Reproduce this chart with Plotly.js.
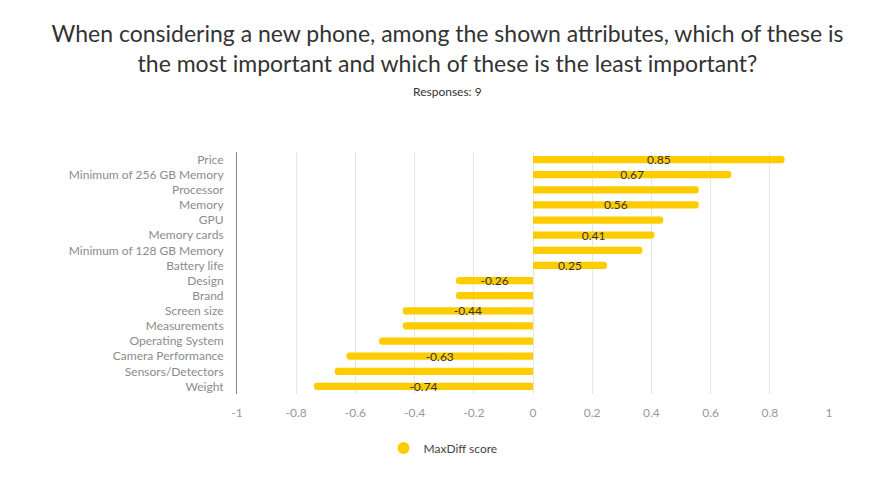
<!DOCTYPE html>
<html>
<head>
<meta charset="utf-8">
<script src="https://cdn.plot.ly/plotly-3.0.1.min.js"></script>
<style>
  html, body { margin: 0; padding: 0; background: #fff; }
  #chart { width: 895px; height: 493px; }
</style>
</head>
<body>
<div id="chart"></div>
<script>
// Attributes, top to bottom
const attributes = [
  "Price", "Minimum of 256 GB Memory", "Processor", "Memory", "GPU",
  "Memory cards", "Minimum of 128 GB Memory", "Battery life", "Design",
  "Brand", "Screen size", "Measurements", "Operating System",
  "Camera Performance", "Sensors/Detectors", "Weight"
];
// MaxDiff score per attribute
const scores = [0.85, 0.67, 0.56, 0.56, 0.44, 0.41, 0.37, 0.25, -0.26,
  -0.26, -0.44, -0.44, -0.52, -0.63, -0.67, -0.74];
// Which bars carry a value label
const labelled = [true, true, false, true, false, true, false, true, true,
  false, true, false, false, true, false, true];
const xTicks = [-1, -0.8, -0.6, -0.4, -0.2, 0, 0.2, 0.4, 0.6, 0.8, 1];

const FONT = "Lato, 'Open Sans', sans-serif";
const YELLOW = "#FFCC00";
const H = 493;
const M = { l: 237, r: 66, t: 152, b: 99 };
const plotH = H - M.t - M.b;

const barText = scores.map((v, i) => labelled[i] ? String(v) : "");

const traces = [
  {
    type: "bar",
    orientation: "h",
    y: attributes,
    x: scores,
    name: "MaxDiff score",
    showlegend: false,
    marker: { color: YELLOW, cornerradius: 3 },
    text: barText,
    textposition: "inside",
    insidetextanchor: "middle",
    constraintext: "none",
    textfont: { family: FONT, size: 12, color: "#333" },
    hoverinfo: "y+x"
  },
  {
    // legend entry with a round swatch; its point sits outside the hidden axes' range
    type: "scatter",
    mode: "markers",
    x: [0],
    y: [0],
    xaxis: "x2",
    yaxis: "y2",
    cliponaxis: true,
    name: "MaxDiff score",
    marker: { color: YELLOW, size: 12, symbol: "circle" },
    hoverinfo: "skip"
  }
];

const layout = {
  width: 895,
  height: H,
  paper_bgcolor: "#fff",
  plot_bgcolor: "#fff",
  font: { family: FONT, color: "#666" },
  margin: M,
  bargap: 0.52,
  title: {
    text: "When considering a new phone, among the shown attributes, which of these is<br>the most important and which of these is the least important?",
    font: { family: FONT, size: 23, color: "#333" },
    x: 0.5,
    xanchor: "center",
    y: 1 - 42 / H,
    yanchor: "middle",
    yref: "container"
  },
  annotations: [
    {
      text: "Responses: 9",
      xref: "paper", yref: "paper",
      x: 0.5 - (M.l - M.r) / 2 / (895 - M.l - M.r),
      y: (H - M.b - 92) / plotH, yanchor: "middle",
      showarrow: false,
      font: { family: FONT, size: 12, color: "#333" }
    }
  ],
  xaxis: {
    range: [-1, 1],
    tickvals: xTicks,
    ticktext: xTicks.map(String),
    showgrid: true,
    gridcolor: "#e6e6e6",
    gridwidth: 1,
    zeroline: false,
    showline: false,
    ticks: "",
    tickfont: { family: FONT, size: 12, color: "#999" },
    ticklabelstandoff: 10,
    fixedrange: true
  },
  yaxis: {
    type: "category",
    categoryorder: "array",
    categoryarray: attributes,
    autorange: "reversed",
    showgrid: false,
    zeroline: false,
    showline: true,
    linecolor: "#888",
    linewidth: 1,
    ticks: "",
    ticklabelstandoff: 10,
    tickfont: { family: FONT, size: 12, color: "#8c8c8c" },
    fixedrange: true
  },
  xaxis2: { visible: false, overlaying: "x", range: [1, 2] },
  yaxis2: { visible: false, overlaying: "y", range: [1, 2] },
  legend: {
    orientation: "h",
    x: 0.495,
    xref: "container",
    xanchor: "center",
    y: 1 - 448 / H,
    yref: "container",
    yanchor: "middle",
    font: { family: FONT, size: 12, color: "#444" }
  },
  showlegend: true
};

Plotly.newPlot("chart", traces, layout, { displayModeBar: false, staticPlot: true });
</script>
</body>
</html>
